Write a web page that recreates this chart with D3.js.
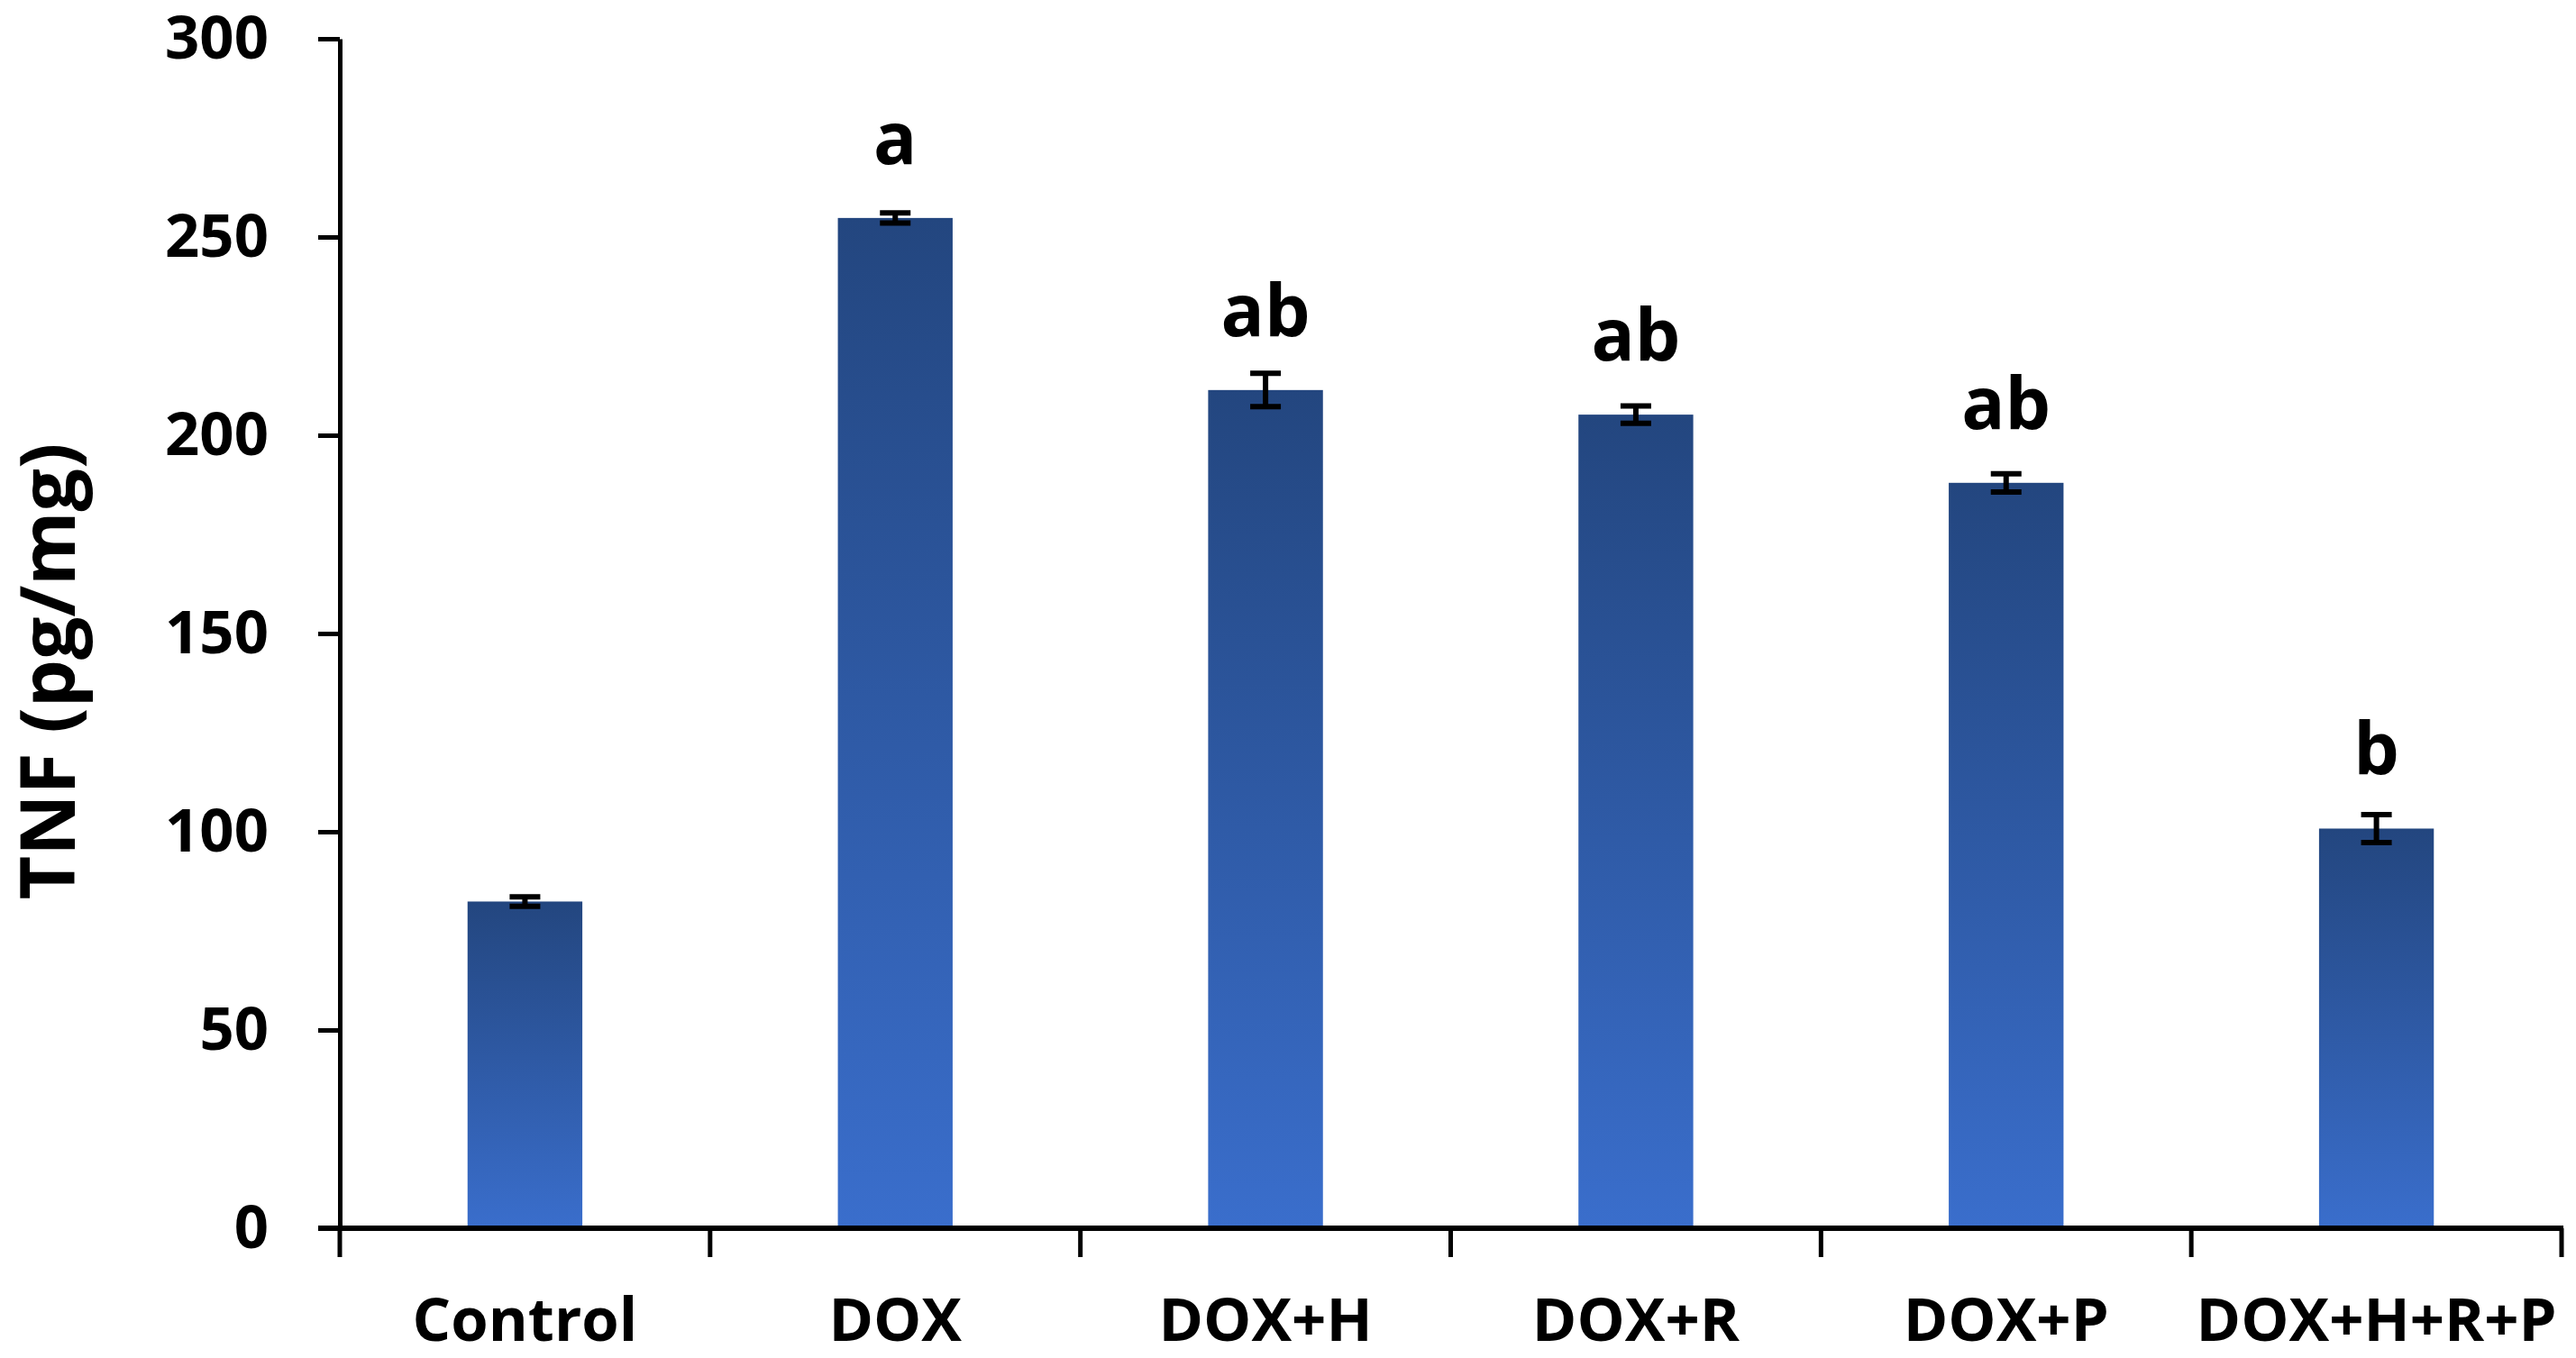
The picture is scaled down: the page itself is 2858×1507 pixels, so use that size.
<!DOCTYPE html>
<html>
<head>
<meta charset="utf-8">
<script src="https://cdn.jsdelivr.net/npm/d3@7"></script>
<style>
  html, body { margin: 0; padding: 0; background: #fff; }
  svg { display: block; }
  text { font-family: "Open Sans", "Liberation Sans", sans-serif; font-weight: 700; fill: #000; }
</style>
</head>
<body>
<svg id="chart" width="2858" height="1507"></svg>
<script>
const categories = ["Control", "DOX", "DOX+H", "DOX+R", "DOX+P", "DOX+H+R+P"];
const values = [82.4, 254.8, 211.4, 205.2, 188.0, 100.8];
const errors = [1.2, 1.3, 4.2, 2.2, 2.3, 3.5];
const letters = ["", "a", "ab", "ab", "ab", "b"];
const yTicks = [0, 50, 100, 150, 200, 250, 300];
const yTitle = "TNF (pg/mg)";

(function () {
const mLeft = 377, mRight = 2842, mTop = 43, mBottom = 1363;

const svg = d3.select("#chart");

const defs = svg.append("defs");
const grad = defs.append("linearGradient")
  .attr("id", "barGrad").attr("x1", 0).attr("y1", 0).attr("x2", 0).attr("y2", 1);
grad.append("stop").attr("offset", "0%").attr("stop-color", "#23467f");
grad.append("stop").attr("offset", "100%").attr("stop-color", "#3a6ecc");

const x = d3.scaleBand().domain(categories).range([mLeft, mRight])
  .paddingInner(0.69).paddingOuter(0.345);
const y = d3.scaleLinear().domain([0, 300]).range([mBottom, mTop]);

// Bars
svg.append("g").selectAll("rect").data(categories).join("rect")
  .attr("x", d => x(d))
  .attr("y", (d, i) => y(values[i]))
  .attr("width", x.bandwidth())
  .attr("height", (d, i) => y(0) - y(values[i]))
  .attr("fill", "url(#barGrad)");

// Error bars
const capW = 34;
const eb = svg.append("g").attr("stroke", "#000").attr("stroke-width", 6);
categories.forEach((c, i) => {
  const cx = x(c) + x.bandwidth() / 2;
  const y1 = y(values[i] + errors[i]), y2 = y(values[i] - errors[i]);
  eb.append("line").attr("x1", cx).attr("x2", cx).attr("y1", y1).attr("y2", y2);
  eb.append("line").attr("x1", cx - capW / 2).attr("x2", cx + capW / 2).attr("y1", y1).attr("y2", y1);
  eb.append("line").attr("x1", cx - capW / 2).attr("x2", cx + capW / 2).attr("y1", y2).attr("y2", y2);
});

// Significance letters
svg.append("g").selectAll("text").data(categories).join("text")
  .attr("x", d => x(d) + x.bandwidth() / 2)
  .attr("y", (d, i) => y(values[i]) - 60)
  .attr("text-anchor", "middle")
  .attr("font-size", 80)
  .text((d, i) => letters[i]);

// Y axis
const yAxis = svg.append("g").attr("transform", `translate(${mLeft},0)`)
  .call(d3.axisLeft(y).tickValues(yTicks).tickSize(24).tickSizeOuter(0).tickPadding(55));
yAxis.select(".domain").attr("stroke", "#000").attr("stroke-width", 5);
yAxis.selectAll(".tick line").attr("stroke", "#000").attr("stroke-width", 5);
yAxis.selectAll(".tick text").attr("font-size", 67)
  .style("font-family", "'Open Sans', sans-serif").style("font-weight", 700);

// X axis: labels
const xAxis = svg.append("g").attr("transform", `translate(0,${mBottom})`)
  .call(d3.axisBottom(x).tickSize(0).tickPadding(77));
xAxis.select(".domain").remove();
xAxis.selectAll(".tick text").attr("font-size", 67)
  .style("font-family", "'Open Sans', sans-serif").style("font-weight", 700);

// X axis line and boundary ticks
const boundaries = d3.range(categories.length + 1).map(k => mLeft + k * x.step());
svg.append("line").attr("x1", mLeft - 24).attr("x2", mRight + 2)
  .attr("y1", mBottom).attr("y2", mBottom)
  .attr("stroke", "#000").attr("stroke-width", 6);
svg.append("g").selectAll("line").data(boundaries).join("line")
  .attr("x1", d => d).attr("x2", d => d)
  .attr("y1", mBottom).attr("y2", mBottom + 32)
  .attr("stroke", "#000").attr("stroke-width", 5);

// Y title
svg.append("text")
  .attr("transform", `translate(83,745) rotate(-90)`)
  .attr("text-anchor", "middle")
  .attr("font-size", 84)
  .text(yTitle);
})();
</script>
</body>
</html>
